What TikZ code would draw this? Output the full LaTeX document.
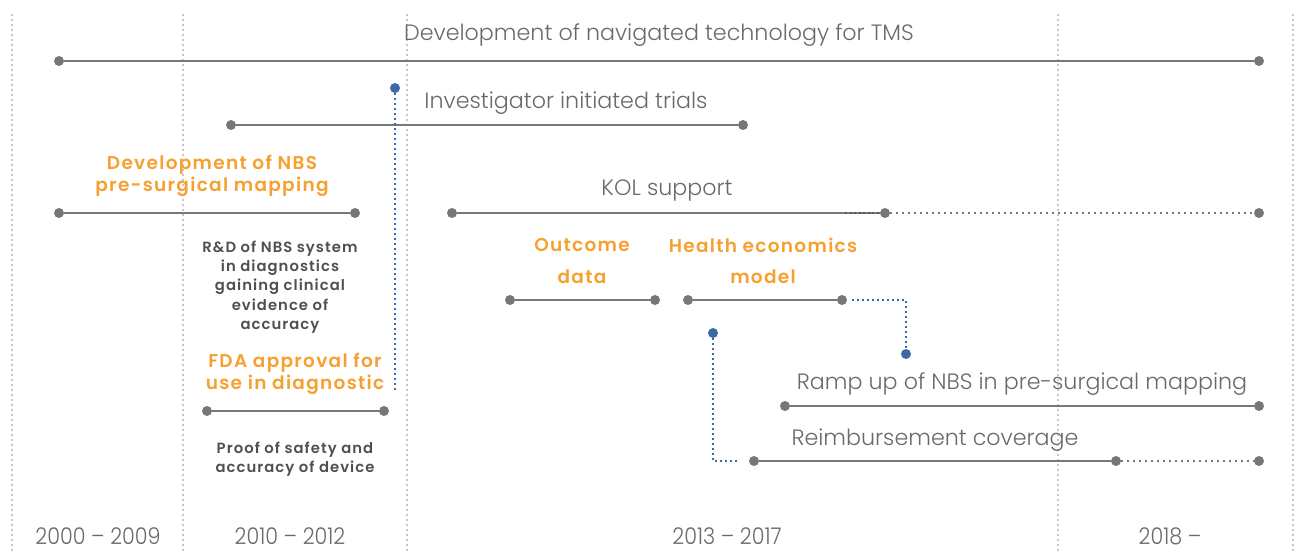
\documentclass[tikz,border=0pt]{standalone}
\usepackage{fontspec}
\setmainfont{Poppins}[UprightFont=* Light, BoldFont=* SemiBold]
\newfontfamily\boldsp{Poppins SemiBold}[LetterSpace=7]
\usetikzlibrary{calc}
\definecolor{lgray}{RGB}{119,119,119}
\definecolor{tgray}{RGB}{105,105,105}
\definecolor{dgray}{RGB}{80,80,80}
\definecolor{gridc}{RGB}{200,200,200}
\definecolor{orng}{RGB}{246,160,48}
\definecolor{blu}{RGB}{58,107,165}
\begin{document}
\begin{tikzpicture}[x=1pt,y=-1pt,
  bar/.style={draw=lgray,line width=2.6pt},
  dotbar/.style={draw=lgray,line width=2pt,dash pattern=on 2pt off 4pt},
  gridl/.style={draw=gridc,line width=1.6pt,dash pattern=on 1.6pt off 3.4pt},
  bluel/.style={draw=blu,line width=2pt,dash pattern=on 2pt off 3pt},
  pt/.style={circle,fill=lgray,inner sep=0pt,minimum size=10pt},
  bpt/.style={circle,fill=blu,inner sep=0pt,minimum size=10pt},
  thin/.style={text=tgray,font=\fontsize{22.2}{25}\selectfont,inner sep=0pt},
  otxt/.style={text=orng,font=\boldsp\fontsize{18.5}{22.5}\selectfont,align=center,inner sep=0pt},
  dtxt/.style={text=dgray,font=\boldsp\fontsize{14.8}{19.3}\selectfont,align=center,inner sep=0pt},
  year/.style={text=tgray,font=\fontsize{23}{26}\selectfont,xscale=0.9,inner sep=0pt}]
\path[use as bounding box] (0,0) rectangle (1295,553);
% grid lines
\foreach \gx/\gn in {12/g0,183/g1,407/g2,1058/g3,1293/g4}{
  \coordinate (\gn t) at (\gx,14);
  \coordinate (\gn b) at (\gx,553);
  \draw[gridl] (\gn t) -- (\gn b);
}
% Development of navigated technology
\node[thin] (t1) at (659,35) {Development of navigated technology for TMS};
\node[pt] (a1) at (59,61) {};
\node[pt] (a2) at (1259,61) {};
\draw[bar] (a1) -- (a2);
% Investigator initiated trials
\node[thin] (t2) at (566,103) {Investigator initiated trials};
\node[pt] (b1) at (231,125) {};
\node[pt] (b2) at (743,125) {};
\draw[bar] (b1) -- (b2);
% FDA blue link
\node[bpt] (fb) at (395,88) {};
\coordinate (fe) at (395,392);
\draw[bluel] (fb) -- (fe);
% Development of NBS
\node[otxt] (t3) at (212,176) {Development of NBS\\pre-surgical mapping};
\node[pt] (c1) at (59,213) {};
\node[pt] (c2) at (355,213) {};
\draw[bar] (c1) -- (c2);
\node[dtxt] (t4) at (280,287) {R\&D of NBS system\\in diagnostics\\gaining clinical\\evidence of\\accuracy};
% FDA approval
\node[otxt] (t5) at (295,374) {FDA approval for\\use in diagnostic};
\node[pt] (d1) at (207,411) {};
\node[pt] (d2) at (384,411) {};
\draw[bar] (d1) -- (d2);
\node[dtxt] (t6) at (295,459) {Proof of safety and\\accuracy of device};
% KOL support
\node[thin] (t7) at (667,191) {KOL support};
\node[pt] (e1) at (452,213) {};
\node[pt] (e2) at (885,213) {};
\node[pt] (e3) at (1259,213) {};
\coordinate (e0) at (845,213);
\draw[bar] (e1) -- (e2);
\draw[draw=black!65,line width=2pt,dash pattern=on 2pt off 2.5pt] (e0) -- (e2);
\draw[dotbar] (e2) -- (e3);
% Outcome data
\node[otxt] (t8) at (582,261) {Outcome\\[9pt]data};
\node[pt] (f1) at (510,300) {};
\node[pt] (f2) at (655,300) {};
\draw[bar] (f1) -- (f2);
% Health economics model
\node[otxt] (t9) at (763,261) {Health economics\\[9pt]model};
\node[pt] (h1) at (688,300) {};
\node[pt] (h2) at (842,300) {};
\draw[bar] (h1) -- (h2);
\coordinate (hs) at (852,300);
\node[bpt] (hb) at (906,354) {};
\draw[bluel] (hs) -| (hb);
% Reimbursement blue link
\node[bpt] (rb) at (713,333) {};
\coordinate (re) at (740,461);
\draw[bluel] (rb) |- (re);
% Ramp up
\node[thin] (t10) at (1022,384) {Ramp up of NBS in pre-surgical mapping};
\node[pt] (k1) at (785,406) {};
\node[pt] (k2) at (1259,406) {};
\draw[bar] (k1) -- (k2);
% Reimbursement coverage
\node[thin] (t11) at (935,440) {Reimbursement coverage};
\node[pt] (m1) at (754,461) {};
\node[pt] (m2) at (1116,461) {};
\node[pt] (m3) at (1259,461) {};
\draw[bar] (m1) -- (m2);
\draw[dotbar] (m2) -- (m3);
% years
\node[year] (y1) at (98,536) {2000 – 2009};
\node[year] (y2) at (290,536) {2010 – 2012};
\node[year] (y3) at (727,536) {2013 – 2017};
\node[year] (y4) at (1170,536) {2018 –};
\end{tikzpicture}
\end{document}
